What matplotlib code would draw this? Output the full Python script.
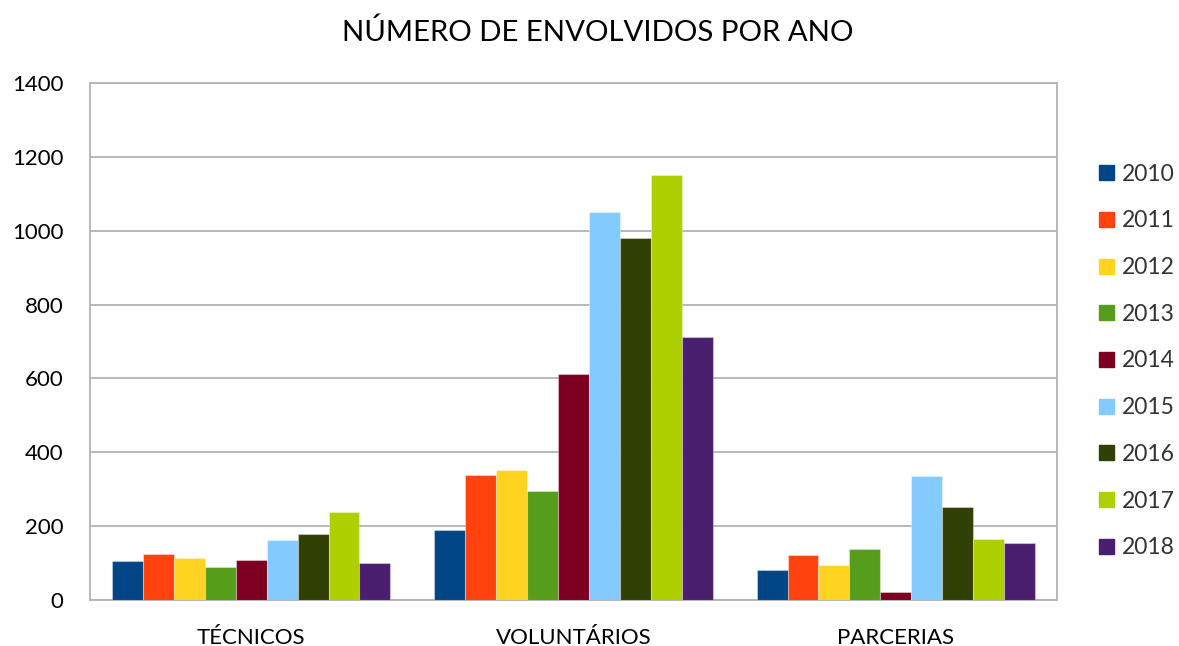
import numpy as np
import matplotlib
matplotlib.use('Agg')
import matplotlib.pyplot as plt
from matplotlib.patches import Patch

plt.rcParams['font.family'] = ['Lato', 'DejaVu Sans']

# data
categories = ['TÉCNICOS', 'VOLUNTÁRIOS', 'PARCERIAS']
years = ['2010', '2011', '2012', '2013', '2014', '2015', '2016', '2017', '2018']
v2010 = [106, 190, 80]
v2011 = [124, 338, 122]
v2012 = [114, 352, 96]
v2013 = [89, 295, 138]
v2014 = [108, 611, 22]
v2015 = [162, 1052, 336]
v2016 = [178, 981, 252]
v2017 = [237, 1150, 165]
v2018 = [99, 711, 153]
series = [v2010, v2011, v2012, v2013, v2014, v2015, v2016, v2017, v2018]
colors = ['#004586', '#ff420e', '#ffd320', '#579d1c', '#7e0021',
          '#83caff', '#314004', '#aecf00', '#4b1f6f']

fig = plt.figure(figsize=(11.79, 6.46), dpi=100)
ax = fig.add_axes([90 / 1179, 46 / 646, 967 / 1179, 517 / 646])

x = np.arange(len(categories))
w = 0.096
for i, vals in enumerate(series):
    off = (i - 4) * w
    ax.bar(x + off, vals, w, color=colors[i], edgecolor=(1, 1, 1, 0.35),
           linewidth=0.8, label=years[i], zorder=3)

ax.set_xlim(-0.5, 2.5)
ax.set_ylim(0, 1400)
ax.set_yticks(range(0, 1401, 200))
ax.yaxis.grid(True, color='#b3b3b3', linewidth=1.3, zorder=0)
ax.set_xticks(x)
ax.set_xticklabels(categories, fontsize=16)
ax.tick_params(axis='x', length=0, pad=20)
ax.tick_params(axis='y', length=0, pad=19, labelsize=16)
for s in ax.spines.values():
    s.set_color('#b3b3b3')
    s.set_linewidth(1.3)

fig.suptitle('NÚMERO DE ENVOLVIDOS POR ANO', fontsize=21.2, x=598 / 1179, y=0.972)

handles = [Patch(color=c) for c in colors]
leg = fig.legend(handles, years, loc='center left',
                 bbox_to_anchor=(1088 / 1179, (646 - 361) / 646),
                 frameon=False, fontsize=16.5,
                 handlelength=0.62, handleheight=0.62,
                 handletextpad=0.35, labelspacing=1.12, borderpad=0)
for t in leg.get_texts():
    t.set_color('#333333')

fig.savefig('out.png', dpi=100)
